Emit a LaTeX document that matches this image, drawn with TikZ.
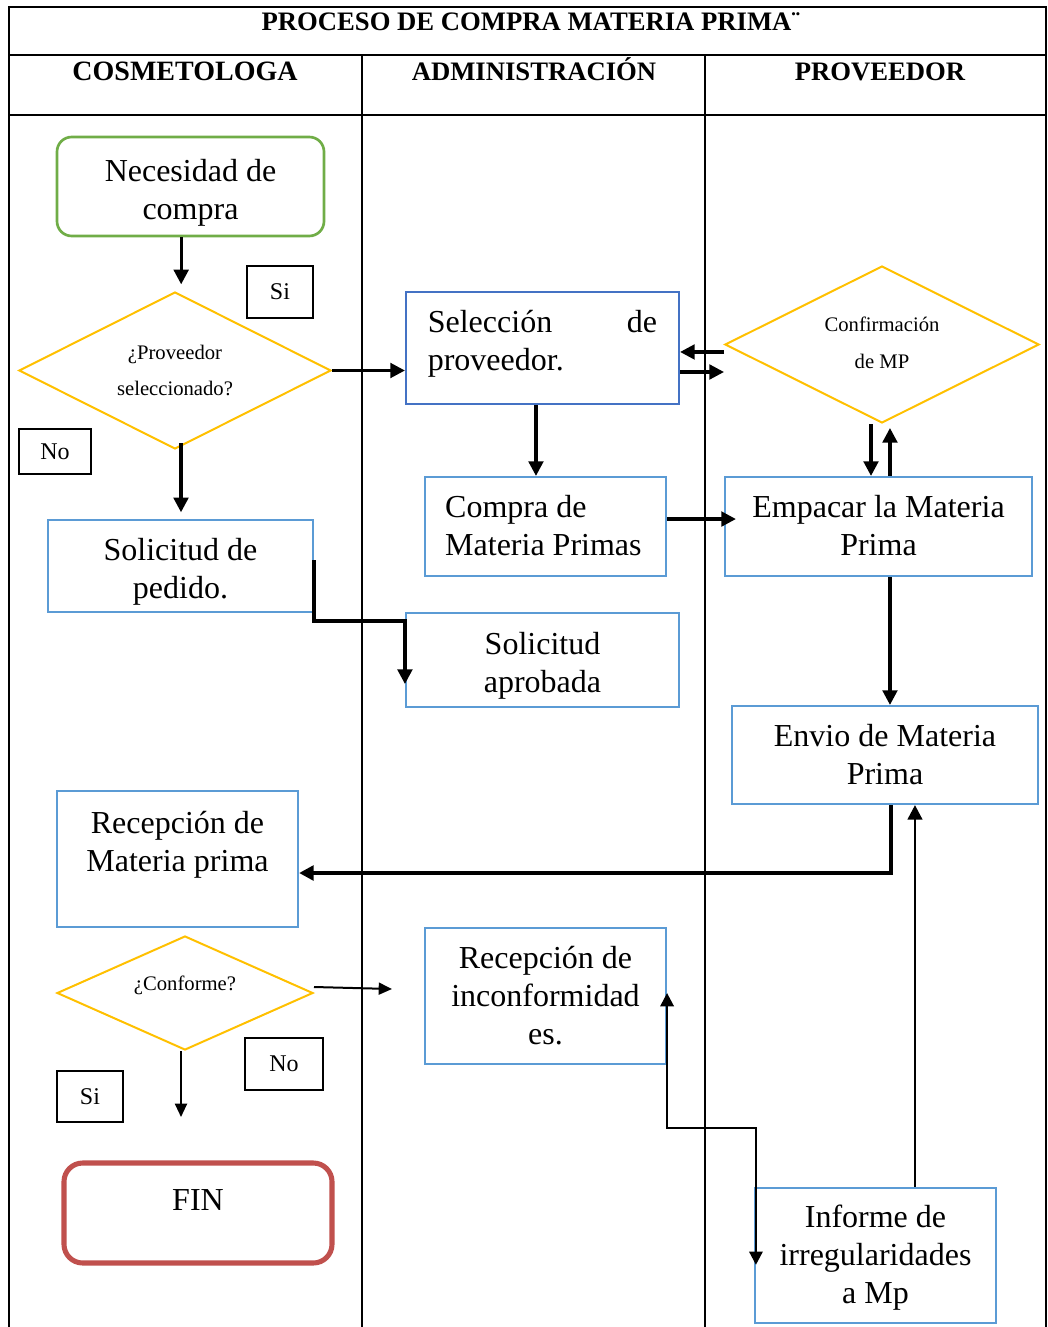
\documentclass[tikz,border=0pt]{standalone}
\usepackage{fontspec}
\setmainfont{Liberation Serif}
\usetikzlibrary{shapes.geometric,arrows.meta}

\definecolor{startgreen}{HTML}{70AD47}
\definecolor{decyellow}{HTML}{FFC000}
\definecolor{procblue}{HTML}{5B9BD5}
\definecolor{seldblue}{HTML}{4472C4}
\definecolor{endred}{HTML}{C0504D}

\newcommand\boxtxt{\fontsize{24}{28.5}\selectfont}
\newcommand\dectxt{\fontsize{15.5}{27.5}\selectfont}
\newcommand\headtxt{\fontsize{20}{24}\selectfont\bfseries}

\begin{document}
\begin{tikzpicture}[x=0.75pt,y=-0.75pt,
  sz/.style 2 args={minimum width=#1*0.75pt,minimum height=#2*0.75pt},
  grid/.style={line width=1.5pt},
  proc/.style={draw=procblue,line width=1.6pt,inner sep=0pt},
  txt/.style={font=\boxtxt,align=center,inner sep=0pt},
  dec/.style={diamond,aspect=2,draw=decyellow,line width=1.5pt,inner sep=0pt,font=\dectxt,align=center},
  tag/.style={draw,line width=1.2pt,inner sep=0pt,font=\fontsize{18}{21}\selectfont},
  arr/.style={line width=2.4pt,-{Triangle[width=11pt,length=11pt]}},
  thinarr/.style={line width=1.5pt,-{Triangle[width=9pt,length=10pt]}},
  dblarr/.style={line width=1.8pt,{Triangle[width=10pt,length=10pt]}-{Triangle[width=10pt,length=10pt]}}]

\useasboundingbox (0,0) rectangle (1048,1327);

% swimlane table
\draw[grid] (9,1327) -- (9,7) -- (1046,7) -- (1046,1327);
\draw[grid] (9,55) -- (1046,55);
\draw[grid] (9,115) -- (1046,115);
\draw[grid] (362,55) -- (362,1327);
\draw[grid] (705,55) -- (705,1327);

\node[font=\headtxt,anchor=base] (title) at (531,31) {PROCESO DE COMPRA MATERIA PRIMA¨};
\node[font=\headtxt,anchor=base] (lane1) at (185,81) {\fontsize{21}{24}\selectfont COSMETOLOGA};
\node[font=\headtxt,anchor=base] (lane2) at (534,81) {ADMINISTRACIÓN};
\node[font=\headtxt,anchor=base] (lane3) at (880,81) {PROVEEDOR};

% cosmetologa lane
\node[draw=startgreen,line width=2pt,rounded corners=11pt,sz={267}{99}] (nec) at (190.5,186.5) {};
\node[txt] (nectxt) at ([yshift=-4.5pt]nec.center) {Necesidad de\\compra};
\node[dec,sz={312}{157}] (d1) at (175,370.5) {¿Proveedor\\seleccionado?};
\node[tag,sz={66}{52}] (si1) at (280,292) {Si};
\node[tag,sz={72}{45}] (no1) at (55,451.5) {No};
\node[proc,sz={265}{92}] (sol) at (180.5,566) {};
\node[txt] (soltxt) at ([yshift=-4.5pt]sol.center) {Solicitud de\\pedido.};
\node[proc,sz={241}{136}] (recmp) at (177.5,859) {};
\node[txt] (recmptxt) at ([yshift=11pt]recmp.center) {Recepción de\\Materia prima};
\node[dec,sz={256}{114}] (conforme) at (185,993) {};
\node[font=\dectxt] (conftxt) at ([yshift=6pt]conforme.center) {¿Conforme?};
\node[tag,sz={78}{52}] (no2) at (284,1064) {No};
\node[tag,sz={66}{51}] (si2) at (90,1096.5) {Si};
\node[draw=endred,line width=3.8pt,rounded corners=14pt,sz={268}{100}] (fin) at (198,1213) {};
\node[font=\boxtxt] (fintxt) at ([yshift=9.75pt]fin.center) {FIN};

% administracion lane
\node[proc,draw=seldblue,sz={273}{112}] (sel) at (542.5,348) {};
\node[txt,text width=172pt,align=left] (seltxt) at ([yshift=3pt]sel.center)
  {Selección\hspace{0pt plus 1filll}de\\proveedor.};
\node[proc,sz={241}{99}] (compra) at (545.5,526.5) {};
\node[txt,align=left,anchor=west] (compratxt) at ([xshift=15.75pt,yshift=0.5pt]compra.west)
  {Compra de\\Materia Primas};
\node[proc,sz={273}{94}] (aprob) at (542.5,660) {};
\node[txt] (aprobtxt) at ([yshift=-4.5pt]aprob.center) {Solicitud\\aprobada};
\node[proc,sz={241}{136}] (recinc) at (545.5,996) {};
\node[txt] (recinctxt) at (recinc.center) {Recepción de\\inconformidad\\es.};

% proveedor lane
\node[dec,sz={314}{157}] (conf) at (882,344.5) {};
\node[font=\dectxt,align=center] (conftitle) at ([yshift=1.5pt]conf.center) {Confirmación\\de MP};
\node[proc,sz={307}{99}] (emp) at (878.5,526.5) {};
\node[txt] (emptxt) at ([yshift=0.5pt]emp.center) {Empacar la Materia\\Prima};
\node[proc,sz={306}{98}] (envio) at (885,755) {};
\node[txt] (enviotxt) at (envio.center) {Envio de Materia\\Prima};
\node[proc,sz={241}{135}] (inf) at (875.5,1255.5) {};
\node[txt] (inftxt) at ([yshift=-1.5pt]inf.center) {Informe de\\irregularidades\\a Mp};

% free ends of the answer arrows
\coordinate (cfend) at (392,989);
\coordinate (cfdown) at (181,1117);

% connectors
\draw[arr,shorten >=5pt] ([xshift=-7pt]nec.south) -- ([xshift=-7pt]nec.south |- d1.north);
\draw[arr] (d1.east) -- (d1.east -| sel.west);
\draw[arr,shorten >=5pt] ([xshift=4.5pt,yshift=5pt]d1.south) -- ([xshift=4.5pt]d1.south |- sol.north);
\draw[arr] ([xshift=-4.9pt]sel.south) -- ([xshift=-4.9pt]sel.south |- compra.north);
\draw[arr,shorten >=-9pt] ([yshift=5.6pt]compra.east) -- ([yshift=5.6pt]compra.east -| emp.west);
\draw[arr] ([yshift=-5.6pt]conf.west) -- ([yshift=-5.6pt]conf.west -| sel.east);
\draw[arr] ([yshift=-18pt]sel.east) -- ([yshift=-18pt]sel.east -| conf.west);
\draw[arr] ([xshift=-8.25pt]conf.south) -- ([xshift=-8.25pt]conf.south |- emp.north);
\draw[arr,shorten >=3pt] ([xshift=8.6pt]emp.north) -- ([xshift=8.6pt]emp.north |- conf.south);
\draw[arr] ([xshift=8.6pt]emp.south) -- ([xshift=8.6pt]emp.south |- envio.north);
\draw[arr] ([yshift=4.5pt]sol.east) -- ++(0,61) -| ([yshift=-18pt]aprob.west);
\draw[arr,line width=2.8pt] ([xshift=4.5pt]envio.south) |- ([yshift=-10.5pt]recmp.east);
\draw[arr,line width=2pt] ([xshift=29.6pt]inf.north) -- ([xshift=29.6pt]inf.north |- envio.south);
\draw[thinarr] ([yshift=4.5pt]conforme.east) -- (cfend);
\draw[thinarr] ([xshift=-3pt]conforme.south) -- (cfdown);
\draw[dblarr] ([yshift=2.25pt]recinc.east) -- ++(0,135) -| ([xshift=1.5pt,yshift=-7pt]inf.west);

\end{tikzpicture}
\end{document}
